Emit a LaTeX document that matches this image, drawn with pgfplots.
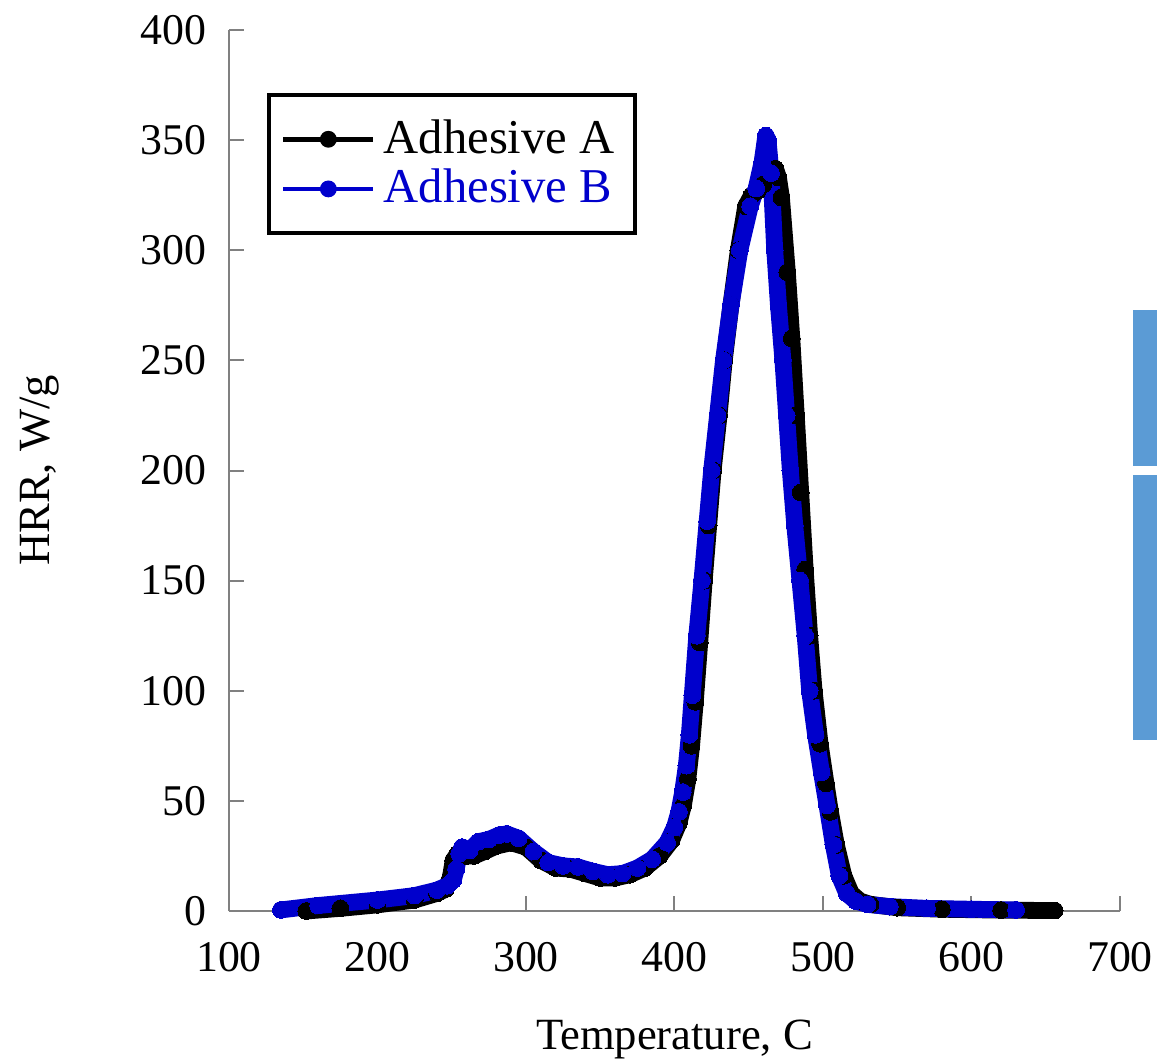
\documentclass[border=0pt]{standalone}
\usepackage{pgfplots}
\pgfplotsset{compat=1.18}
\usepackage{fontspec}
\setmainfont{Liberation Serif}
\definecolor{hrrblue}{RGB}{0,0,204}
\definecolor{sideblue}{HTML}{5B9BD5}
\begin{document}
\begin{tikzpicture}
\path[use as bounding box] (0,0) rectangle (289.25bp,-265.75bp);
\begin{axis}[
  at={(57.25bp,-227.75bp)}, anchor=south west,
  scale only axis, width=222.75bp, height=220.25bp,
  xmin=100, xmax=700, ymin=0, ymax=400,
  xtick={100,200,...,700}, ytick={0,50,...,400},
  axis x line=bottom, axis y line=left,
  axis line style={-, draw=black!50, line width=0.5bp},
  tick style={draw=black!50, line width=0.5bp},
  tick align=inside, major tick length=3.75bp,
  /pgf/number format/assume math mode=true,
  ticklabel style={font=\fontsize{11}{13}\selectfont},
  yticklabel style={xshift=-2.2bp},
  xticklabel style={yshift=-4.2bp},
  xlabel={Temperature, C},
  ylabel={HRR, W/g},
  label style={font=\fontsize{11.2}{13}\selectfont},
  xlabel style={at={(axis description cs:0.5,-0.146)}, anchor=center},
  ylabel style={at={(axis description cs:-0.212,0.5)}, anchor=center, rotate=0},
  clip=false,
  legend style={at={(0.0426,0.928)}, anchor=north west, draw=black, line width=1bp,
    font=\fontsize{12.2}{13.5}\selectfont, inner xsep=3bp, inner ysep=4bp,
    row sep=-1.5bp},
  legend cell align=left,
]
\addlegendimage{black, legend image code/.code={\draw[black,line width=1.2bp] (0bp,0bp) -- (22.5bp,0bp); \fill[black] (11.25bp,0bp) circle (1.6bp);}}
\addlegendentry{Adhesive A}
\addlegendimage{hrrblue, legend image code/.code={\draw[hrrblue,line width=1.2bp] (0bp,0bp) -- (22.5bp,0bp); \fill[hrrblue] (11.25bp,0bp) circle (1.6bp);}}
\addlegendentry{\textcolor{hrrblue}{Adhesive B}}
\addplot[forget plot, black, line width=4.2bp, line join=round, line cap=round,
  mark=*, mark size=2.1bp, mark options={fill=black, draw=none, line width=0pt}]
coordinates {
(152,0)(175,1.2)(200,2.8)(225,5)(240,8)(246,10)(249,15)(251,23)(254,26)(260,25)(265,25)
(272,27)(280,29.5)(290,31)(300,29)(310,23)(320,19.5)(330,19)(340,17)(350,15)(360,15)
(370,16.5)(380,19.5)(390,25)(398,32)(403,40)(406,48)(409,60)(411.5,75)(414,95)(417,122)(420,150)
(423,175)(426,200)(430,225)(433.5,250)(438,275)(443,300)(448,320)(452,325)(456,327)
(460,330)(466,335)(468,337)(470,333)(472,324)(476,290)(479,260)(482,225)(485,190)
(488,155)(491,125)(494,100)(498,76)(502,58)(505,45)(509,30)(514,16)(519,8)(525,4.5)
(532,3)(550,1.5)(580,0.8)(620,0.4)(656,0.2)
};
\addplot[forget plot, hrrblue, line width=4.2bp, line join=round, line cap=round,
  mark=*, mark size=2.1bp, mark options={fill=hrrblue, draw=none, line width=0pt}]
coordinates {
(135,0.5)(160,2.5)(200,5)(225,7)(240,9.5)(247,11.5)(251,14)(253,19)(255,26)(257,29)
(262,27.5)(268,31.5)(275,32.5)(282,34.5)(287,35)(295,33)(305,27)(315,22)(325,20.5)
(335,20)(345,18)(355,16.5)(365,17)(375,19.5)(385,23.5)(395,31)(400,38)(403,45)(405.5,54)
(408,66)(410,80)(412,98)(415,125)(418.5,150)(422,177)(425,200)(429,225)(433,250)(438,275)
(444,300)(451,320)(455,328)(459,340)(461.5,352)(463,350)(465,335)(467.5,300)(470,275)
(473,250)(475.5,225)(478,200)(481,175)(484.5,150)(488,125)(491,100)(495,80)(499,63)(502.7,48)
(507,30)(511,16)(516,8)(522,4.5)(530,3)(545,2)(570,1.2)(600,0.8)(630,0.5)
};
\end{axis}
\fill[sideblue] (283.25bp,-77.5bp) rectangle (289.25bp,-116.5bp);
\fill[sideblue] (283.25bp,-118.75bp) rectangle (289.25bp,-185bp);
\end{tikzpicture}
\end{document}
